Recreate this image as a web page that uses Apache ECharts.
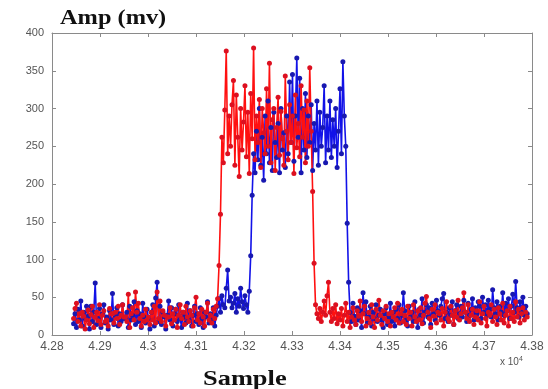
<!DOCTYPE html>
<html>
<head>
<meta charset="utf-8">
<script src="https://cdn.jsdelivr.net/npm/echarts@6/dist/echarts.min.js"></script>
<style>
html,body{margin:0;padding:0;background:#fff;}
#chart{width:548px;height:389px;}
</style>
</head>
<body>
<div id="chart"></div>
<script>
// Sample number of the first plotted point and spacing between plotted samples
var sampleStart = 42845;
var sampleStep = 3;

// Amplitude (mV)
var redAmp = [
  22, 35, 42, 18, 28, 12, 30, 25, 8, 20,
  33, 15, 27, 38, 10, 24, 30, 19, 40, 14,
  26, 32, 18, 20, 12, 35, 28, 28, 16, 30,
  22, 38, 14, 26, 40, 24, 24, 18, 54, 10,
  28, 36, 20, 57, 30, 42, 22, 12, 26, 18,
  34, 20, 24, 14, 30, 20, 38, 16, 57, 22,
  45, 18, 32, 26, 12, 24, 24, 36, 15, 28,
  20, 34, 10, 26, 40, 22, 30, 14, 38, 24,
  18, 32, 26, 12, 36, 50, 20, 28, 16, 34,
  24, 12, 30, 42, 20, 26, 16, 34, 22, 38,
  48, 92, 160, 262, 228, 298, 376, 240, 290, 250,
  305, 337, 225, 318, 262, 210, 300, 245, 282, 330,
  236, 295, 214, 320, 260, 380, 232, 290, 255, 312,
  222, 300, 268, 240, 326, 250, 360, 228, 285, 300,
  218, 275, 315, 238, 296, 260, 225, 343, 270, 232,
  305, 255, 290, 214, 318, 248, 280, 236, 330, 262,
  298, 228, 310, 250, 354, 270, 190, 95, 40, 28,
  22, 35, 18, 30, 45, 26, 52, 70, 30, 18,
  35, 22, 40, 15, 28, 20, 35, 12, 26, 42,
  18, 30, 10, 24, 36, 20, 14, 32, 25, 45,
  18, 28, 38, 12, 22, 30, 16, 40, 24, 10,
  34, 20, 46, 26, 14, 32, 22, 38, 18, 28,
  12, 30, 24, 36, 20, 42, 16, 28, 34, 18,
  26, 14, 38, 22, 30, 12, 40, 24, 18, 32,
  20, 36, 15, 26, 42, 51, 30, 22, 10, 34,
  25, 40, 16, 30, 28, 20, 35, 12, 30, 44,
  22, 18, 38, 26, 14, 32, 24, 46, 20, 28,
  36, 56, 30, 22, 40, 18, 26, 34, 14, 24,
  32, 20, 44, 16, 28, 38, 22, 12, 30, 26,
  40, 18, 34, 24, 14, 36, 28, 20, 42, 16,
  26, 32, 12, 38, 22, 30, 18, 44, 24, 34,
  16, 28, 36, 20, 30, 24
];
var blueAmp = [
  15, 28, 10, 34, 20, 45, 12, 30, 22, 38,
  25, 8, 38, 18, 30, 69, 14, 22, 35, 10,
  28, 40, 16, 24, 8, 32, 20, 55, 14, 26,
  36, 12, 28, 18, 40, 22, 22, 30, 10, 38,
  20, 26, 44, 14, 32, 18, 28, 10, 42, 24,
  16, 34, 22, 8, 30, 40, 12, 49, 70, 18,
  38, 14, 30, 24, 8, 26, 45, 20, 36, 12,
  28, 34, 18, 40, 22, 10, 30, 24, 16, 42,
  20, 32, 12, 26, 38, 18, 28, 14, 36, 22,
  10, 30, 24, 44, 16, 28, 20, 36, 12, 26,
  38, 48, 30, 52, 40, 36, 62, 86, 45, 50,
  36, 42, 55, 30, 48, 38, 62, 44, 35, 52,
  40, 30, 58, 105, 185, 240, 215, 270, 232, 300,
  225, 262, 205, 290, 240, 310, 228, 275, 218, 295,
  255, 235, 280, 215, 300, 245, 268, 222, 290, 240,
  335, 255, 345, 230, 290, 367, 262, 340, 215, 300,
  245, 320, 235, 290, 255, 305, 218, 280, 245, 310,
  225, 295, 250, 275, 330, 228, 290, 245, 310, 235,
  285, 250, 300, 222, 270, 326, 240, 362, 290, 250,
  148, 70, 30, 18, 42, 25, 14, 36, 20, 32,
  10, 56, 28, 44, 16, 24, 38, 12, 30, 22,
  40, 18, 26, 34, 20, 10, 28, 36, 14, 24,
  42, 18, 30, 12, 34, 22, 40, 16, 26, 56,
  32, 20, 12, 38, 24, 30, 18, 44, 22, 10,
  34, 26, 48, 16, 30, 40, 24, 36, 14, 42,
  28, 20, 46, 32, 26, 38, 48, 55, 22, 30,
  18, 36, 26, 44, 14, 32, 40, 22, 28, 38,
  24, 46, 30, 18, 42, 26, 34, 48, 20, 36,
  28, 44, 38, 22, 50, 30, 40, 26, 46, 34,
  24, 60, 36, 28, 44, 20, 38, 30, 56, 26,
  42, 32, 48, 22, 38, 54, 30, 71, 36, 24,
  44, 30, 50, 26, 38, 28
];

var xMin = 42800, xMax = 43800, xInterval = 100;
var yMin = 0, yMax = 400, yInterval = 50;

function pairs(arr) {
  return arr.map(function (v, i) { return [sampleStart + i * sampleStep, v]; });
}

var axisGray = '#8a8a8a';
var labelGray = '#555';

var chart = echarts.init(document.getElementById('chart'));
chart.setOption({
  backgroundColor: '#fff',
  animation: false,
  grid: { left: 52, right: 16, top: 33, bottom: 54 },
  xAxis: [{
    type: 'value', min: xMin, max: xMax, interval: xInterval,
    axisLine: { show: true, onZero: false, lineStyle: { color: axisGray, width: 1 } },
    axisTick: { show: true, inside: true, length: 4, lineStyle: { color: axisGray } },
    axisLabel: {
      color: labelGray, fontFamily: 'Liberation Sans, Arial', fontSize: 12, margin: 6,
      formatter: function (v) { return String(parseFloat((v / 10000).toFixed(2))); }
    },
    splitLine: { show: false }
  }, {
    type: 'value', position: 'top', min: xMin, max: xMax, interval: xInterval,
    axisLine: { show: true, onZero: false, lineStyle: { color: axisGray, width: 1 } },
    axisTick: { show: true, inside: true, length: 4, lineStyle: { color: axisGray } },
    axisLabel: { show: false },
    splitLine: { show: false }
  }],
  yAxis: [{
    type: 'value', min: yMin, max: yMax, interval: yInterval,
    axisLine: { show: true, onZero: false, lineStyle: { color: axisGray, width: 1 } },
    axisTick: { show: true, inside: true, length: 4, lineStyle: { color: axisGray } },
    axisLabel: { color: labelGray, fontFamily: 'Liberation Sans, Arial', fontSize: 11, margin: 8 },
    splitLine: { show: false }
  }, {
    type: 'value', position: 'right', min: yMin, max: yMax, interval: yInterval,
    axisLine: { show: true, onZero: false, lineStyle: { color: axisGray, width: 1 } },
    axisTick: { show: true, inside: true, length: 4, lineStyle: { color: axisGray } },
    axisLabel: { show: false },
    splitLine: { show: false }
  }],
  series: [{
    type: 'line', data: pairs(blueAmp), xAxisIndex: 0, yAxisIndex: 0,
    symbol: 'circle', symbolSize: 5, showAllSymbol: true,
    lineStyle: { color: '#1212e8', width: 1.6 },
    itemStyle: { color: '#1818b0' }
  }, {
    type: 'line', data: pairs(redAmp), xAxisIndex: 0, yAxisIndex: 0,
    symbol: 'circle', symbolSize: 5, showAllSymbol: true,
    lineStyle: { color: '#ff1010', width: 1.6 },
    itemStyle: { color: '#dc1020' }
  }],
  graphic: [{
    type: 'text', x: 60, y: 8, scaleX: 1.16,
    style: { text: 'Amp (mv)', font: 'bold 21px "Liberation Serif", "Times New Roman", serif', fill: '#111', textAlign: 'left', textVerticalAlign: 'top' }
  }, {
    type: 'text', x: 203, y: 368, scaleX: 1.2,
    style: { text: 'Sample', font: 'bold 22px "Liberation Serif", "Times New Roman", serif', fill: '#111', textAlign: 'left', textVerticalAlign: 'top' }
  }, {
    type: 'text', x: 500, y: 356,
    style: {
      rich: {
        a: { fontSize: 10, fontFamily: 'Liberation Sans, Arial', fill: labelGray, color: labelGray },
        s: { fontSize: 7, fontFamily: 'Liberation Sans, Arial', fill: labelGray, color: labelGray, verticalAlign: 'top', padding: [0, 0, 6, 0] }
      },
      text: '{a|x 10}{s|4}'
    }
  }]
});
</script>
</body>
</html>
